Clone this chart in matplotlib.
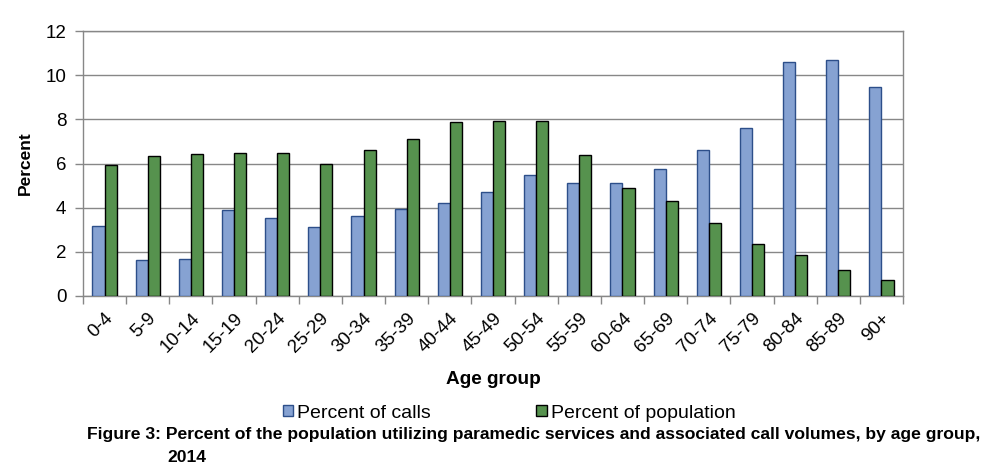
import matplotlib
matplotlib.use("Agg")
import matplotlib.pyplot as plt
import numpy as np

plt.rcParams['font.family'] = ['Liberation Sans', 'DejaVu Sans']

age_groups = ["0-4", "5-9", "10-14", "15-19", "20-24", "25-29", "30-34", "35-39",
              "40-44", "45-49", "50-54", "55-59", "60-64", "65-69", "70-74", "75-79",
              "80-84", "85-89", "90+"]
percent_calls = [3.15, 1.63, 1.68, 3.88, 3.52, 3.11, 3.61, 3.92, 4.20, 4.69,
                 5.46, 5.10, 5.10, 5.74, 6.60, 7.59, 10.58, 10.67, 9.45]
percent_population = [5.92, 6.32, 6.42, 6.46, 6.46, 5.98, 6.60, 7.11, 7.86, 7.92,
                      7.92, 6.37, 4.88, 4.29, 3.29, 2.34, 1.84, 1.16, 0.71]
y_ticks = [0, 2, 4, 6, 8, 10, 12]

fig = plt.figure(figsize=(9.92, 4.74), dpi=100)
ax = fig.add_axes([83/992, 1-296/474, (903-83)/992, (296-31)/474])

x = np.arange(len(age_groups))
w = 0.28
ax.bar(x - w/2, percent_calls, width=w, color='#86A2D2', edgecolor='#2D4F8A',
       linewidth=1, label='Percent of calls', zorder=3)
ax.bar(x + w/2, percent_population, width=w, color='#56924E', edgecolor='#000000',
       linewidth=1, label='Percent of population', zorder=3)

ax.set_xlim(-0.5, len(age_groups) - 0.5)
ax.set_ylim(0, 12)
ax.set_yticks(y_ticks)
ax.set_yticklabels([str(v) for v in y_ticks], fontsize=13.5)
ax.yaxis.grid(True, color='#878787', linewidth=1, zorder=0)
ax.set_axisbelow(True)

ax.set_xticks(np.arange(len(age_groups) + 1) - 0.5, minor=False)
ax.set_xticklabels([])
ax.set_xticks(x, minor=True)
ax.set_xticklabels(age_groups, minor=True, rotation=45, ha='right',
                   rotation_mode='anchor', fontsize=13.5)
ax.tick_params(axis='x', which='major', length=6, color='#878787', width=1, direction='out')
ax.tick_params(axis='x', which='minor', length=0, pad=10)
ax.tick_params(axis='y', length=6, color='#878787', width=1, direction='out', pad=6)

for s in ax.spines.values():
    s.set_color('#878787')
    s.set_linewidth(1)

ax.set_xlabel('Age group', fontsize=13.7, fontweight='bold', labelpad=11)
ax.set_ylabel('Percent', fontsize=12.5, fontweight='bold', labelpad=9)

fig.legend(loc='center', bbox_to_anchor=(509/992, 1-413/474), ncol=2, frameon=False,
           fontsize=14, handlelength=0.55, handleheight=0.55, handletextpad=0.2,
           columnspacing=5.4)

fig.text(87/992, 1-435/474,
         "Figure 3: Percent of the population utilizing paramedic services and associated call volumes, by age group,",
         fontsize=12.6, fontweight='bold', va='center', ha='left')
fig.text(167/992, 1-457/474, "2014", fontsize=12.6, fontweight='bold', va='center', ha='left')

fig.savefig('out.png', dpi=100)
